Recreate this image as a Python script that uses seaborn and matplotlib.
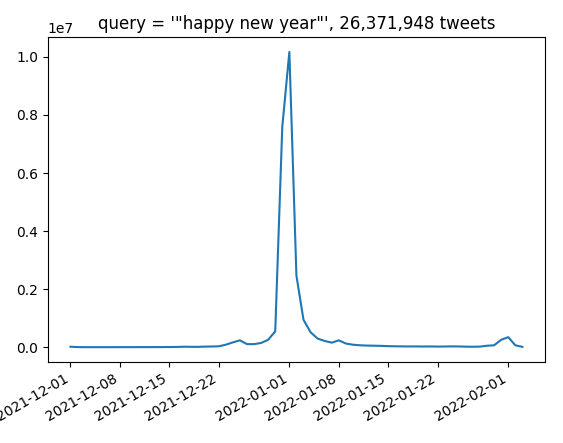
import matplotlib
matplotlib.use("Agg")
import matplotlib.pyplot as plt
import seaborn as sns
import pandas as pd

start_date = "2021-12-01"
end_date = "2022-02-03"
tweet_counts = [
    20000, 8000, 5000, 5000, 5000, 5000, 5000, 6000, 6000, 6000,
    7000, 7000, 8000, 8000, 10000, 12000, 20000, 18000, 15000, 25000,
    28000, 35000, 90000, 170000, 240000, 110000, 110000, 150000, 260000, 550000,
    7600000, 10170000, 2470000, 950000, 520000, 300000, 220000, 160000, 240000, 130000,
    90000, 70000, 60000, 55000, 50000, 40000, 35000, 32000, 30000, 30000,
    28000, 30000, 25000, 28000, 32000, 30000, 22000, 20000, 25000, 55000,
    70000, 260000, 350000, 70000, 15000,
]
title = "query = '\"happy new year\"', 26,371,948 tweets"

dates = pd.date_range(start_date, end_date, freq="D")
df = pd.DataFrame({"date": dates, "count": tweet_counts})

fig, ax = plt.subplots(figsize=(5.63, 4.43), dpi=100)
sns.lineplot(data=df, x="date", y="count", ax=ax, color="#1f77b4")
ax.set_xlabel("")
ax.set_ylabel("")
ax.set_title(title)
fig.autofmt_xdate()
fig.subplots_adjust(left=0.085, right=0.968, top=0.916, bottom=0.183)
fig.savefig("out.png", dpi=100)
